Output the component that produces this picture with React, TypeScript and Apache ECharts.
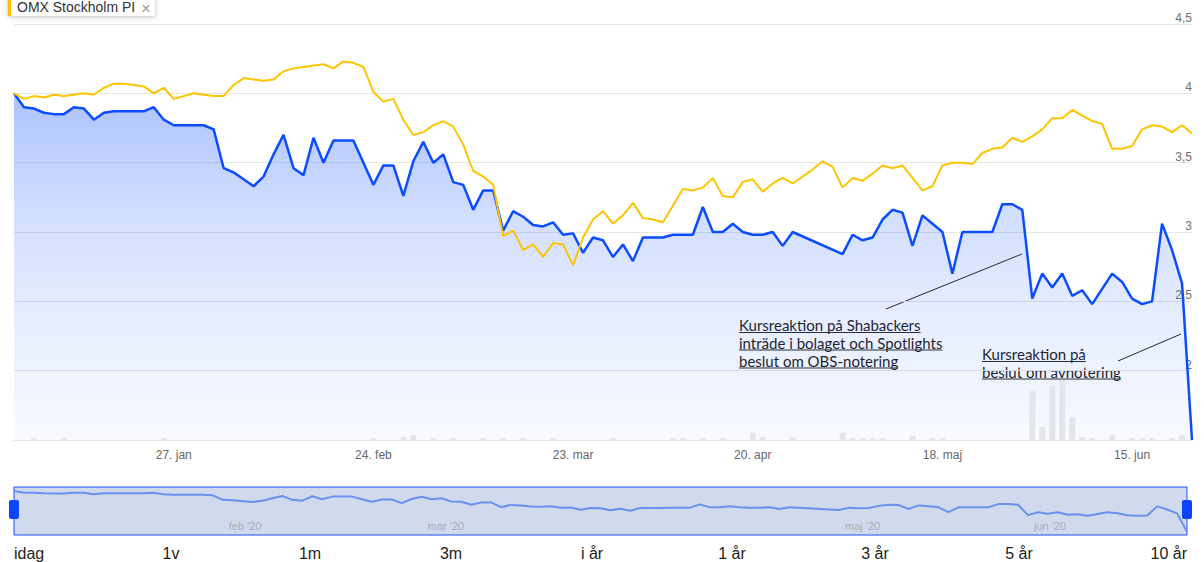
import React, { useEffect, useRef } from "react";
import * as echarts from "echarts";

// Trading days (x categories)
const dates: string[] = [
  "2020-01-02","2020-01-03","2020-01-07","2020-01-08","2020-01-09","2020-01-10","2020-01-13","2020-01-14","2020-01-15","2020-01-16",
  "2020-01-17","2020-01-20","2020-01-21","2020-01-22","2020-01-23","2020-01-24","2020-01-27","2020-01-28","2020-01-29","2020-01-30",
  "2020-01-31","2020-02-03","2020-02-04","2020-02-05","2020-02-06","2020-02-07","2020-02-10","2020-02-11","2020-02-12","2020-02-13",
  "2020-02-14","2020-02-17","2020-02-18","2020-02-19","2020-02-20","2020-02-21","2020-02-24","2020-02-25","2020-02-26","2020-02-27",
  "2020-02-28","2020-03-02","2020-03-03","2020-03-04","2020-03-05","2020-03-06","2020-03-09","2020-03-10","2020-03-11","2020-03-12",
  "2020-03-13","2020-03-16","2020-03-17","2020-03-18","2020-03-19","2020-03-20","2020-03-23","2020-03-24","2020-03-25","2020-03-26",
  "2020-03-27","2020-03-30","2020-03-31","2020-04-01","2020-04-02","2020-04-03","2020-04-06","2020-04-07","2020-04-08","2020-04-09",
  "2020-04-14","2020-04-15","2020-04-16","2020-04-17","2020-04-20","2020-04-21","2020-04-22","2020-04-23","2020-04-24","2020-04-27",
  "2020-04-28","2020-04-29","2020-04-30","2020-05-04","2020-05-05","2020-05-06","2020-05-07","2020-05-08","2020-05-11","2020-05-12",
  "2020-05-13","2020-05-14","2020-05-15","2020-05-18","2020-05-19","2020-05-20","2020-05-22","2020-05-25","2020-05-26","2020-05-27",
  "2020-05-28","2020-05-29","2020-06-01","2020-06-02","2020-06-03","2020-06-04","2020-06-05","2020-06-08","2020-06-09","2020-06-10",
  "2020-06-11","2020-06-12","2020-06-15","2020-06-16","2020-06-17","2020-06-18","2020-06-22","2020-06-23","2020-06-24",
];

// Stock price (SEK)
const stockPrice: (number | null)[] = [
  4.00, 3.90, 3.89, 3.86, 3.85, 3.85, 3.90, 3.89, 3.81, 3.86,
  3.87, 3.87, 3.87, 3.87, 3.90, 3.81, 3.77, 3.77, 3.77, 3.77,
  3.74, 3.46, 3.43, 3.38, 3.33, 3.40, 3.56, 3.70, 3.46, 3.41,
  3.68, 3.50, 3.66, 3.66, 3.66, 3.50, 3.34, 3.48, 3.48, 3.26,
  3.51, 3.65, 3.50, 3.56, 3.36, 3.34, 3.16, 3.30, 3.30, 3.01,
  3.15, 3.11, 3.05, 3.04, 3.07, 2.98, 2.99, 2.85, 2.96, 2.94,
  2.82, 2.91, 2.79, 2.96, 2.96, 2.96, 2.98, 2.98, 2.98, 3.18,
  3.00, 3.00, 3.06, 3.00, 2.98, 2.98, 3.00, 2.90, 3.00, null,
  null, null, null, 2.84, 2.98, 2.94, 2.96, 3.09, 3.16, 3.14,
  2.90, 3.12, 3.06, 3.00, 2.70, 3.00, 3.00, 3.00, 3.00, 3.20,
  3.20, 3.16, 2.52, 2.70, 2.60, 2.70, 2.54, 2.58, 2.48, 2.59,
  2.70, 2.64, 2.52, 2.48, 2.50, 3.06, 2.87, 2.63, 1.50,
];

// OMX Stockholm PI, rebased to the stock's first value
const omxIndex: number[] = [
  4.00, 3.96, 3.98, 3.97, 3.99, 3.98, 3.99, 4.00, 3.99, 4.04,
  4.07, 4.07, 4.06, 4.05, 4.00, 4.04, 3.96, 3.98, 4.00, 3.99,
  3.98, 3.98, 4.06, 4.11, 4.10, 4.09, 4.10, 4.16, 4.18, 4.19,
  4.20, 4.21, 4.18, 4.23, 4.22, 4.19, 4.01, 3.94, 3.96, 3.81,
  3.70, 3.72, 3.77, 3.80, 3.76, 3.63, 3.44, 3.40, 3.34, 2.97,
  3.01, 2.87, 2.91, 2.82, 2.92, 2.91, 2.76, 2.96, 3.09, 3.15,
  3.06, 3.12, 3.21, 3.10, 3.09, 3.07, 3.19, 3.31, 3.30, 3.32,
  3.39, 3.26, 3.25, 3.36, 3.38, 3.29, 3.35, 3.39, 3.35, 3.40,
  3.45, 3.51, 3.47, 3.32, 3.39, 3.37, 3.42, 3.48, 3.46, 3.48,
  3.39, 3.30, 3.33, 3.48, 3.50, 3.50, 3.49, 3.57, 3.60, 3.61,
  3.68, 3.65, 3.69, 3.74, 3.82, 3.82, 3.88, 3.84, 3.80, 3.78,
  3.60, 3.60, 3.62, 3.74, 3.77, 3.76, 3.72, 3.77, 3.71,
];

// Traded volume (relative units)
const volume: number[] = [
  0, 0, 3, 0, 0, 3, 0, 0, 0, 0,
  0, 0, 0, 0, 0, 3, 0, 0, 0, 0,
  0, 0, 0, 0, 0, 0, 0, 0, 0, 0,
  0, 0, 0, 0, 0, 0, 3, 0, 0, 5,
  8, 0, 3, 0, 3, 0, 0, 3, 0, 3,
  0, 3, 0, 0, 3, 0, 0, 0, 0, 0,
  3, 0, 0, 0, 0, 0, 3, 3, 0, 3,
  0, 3, 0, 0, 12, 5, 0, 0, 5, 0,
  0, 0, 0, 12, 3, 3, 3, 3, 0, 0,
  7, 0, 3, 3, 0, 0, 0, 0, 0, 0,
  0, 0, 82, 22, 90, 100, 38, 5, 3, 0,
  8, 0, 3, 3, 3, 0, 3, 8, 0,
];

const xTickDates = ["2020-01-27", "2020-02-24", "2020-03-23", "2020-04-20", "2020-05-18", "2020-06-15"];
const navTickDates = ["2020-02-03", "2020-03-02", "2020-05-04", "2020-06-01"];
const monthNames: Record<string, string> = { "01": "jan", "02": "feb", "03": "mar", "04": "apr", "05": "maj", "06": "jun" };

const legendLabel = "OMX Stockholm PI";
const annotation1 = ["Kursreaktion på Shabackers", "inträde i bolaget och Spotlights", "beslut om OBS-notering"];
const annotation2 = ["Kursreaktion på", "beslut om avnotering"];
const rangeButtons = ["idag", "1v", "1m", "3m", "i år", "1 år", "3 år", "5 år", "10 år"];

export default function App() {
  const ref = useRef<HTMLDivElement>(null);

  useEffect(() => {
    if (!ref.current) return;
    const chart = echarts.init(ref.current, null, { renderer: "svg" });

    const annFamily = 'Lato, "Noto Sans", sans-serif';
    const annSize = 15;
    const annFont = `${annSize}px ${annFamily}`;
    const canvas = document.createElement("canvas");
    const ctx = canvas.getContext("2d")!;
    ctx.font = annFont;
    const tw = (t: string) => ctx.measureText(t).width;

    const annBlock = (lines: string[], x: number, centers: number[]) =>
      lines.flatMap((t, k) => [
        {
          type: "text",
          x,
          y: centers[k],
          style: { text: t, font: annFont, fill: "#1e1e1e", align: "left", verticalAlign: "middle" },
        },
        {
          type: "line",
          shape: { x1: x, y1: centers[k] + 7.5, x2: x + tw(t), y2: centers[k] + 7.5 },
          style: { stroke: "#2a2a2a", lineWidth: 1 },
        },
      ]);

    const btnX = [14, 171, 310, 451, 592, 732, 875, 1019, 1187];
    const buttons = rangeButtons.map((t, i) => ({
      type: "text",
      x: btnX[i],
      y: 553,
      style: {
        text: t,
        font: '16px "Liberation Sans", Arial, sans-serif',
        fill: "#222",
        align: i === 0 ? "left" : i === rangeButtons.length - 1 ? "right" : "center",
        verticalAlign: "middle",
      },
    }));

    const option: any = {
      animation: false,
      backgroundColor: "#fff",
      textStyle: { fontFamily: '"Liberation Sans", Arial, sans-serif' },
      grid: [
        { left: 14, right: 12, top: 24, bottom: 122 },
        { left: 14, right: 12, top: 380, bottom: 122 },
        {
          left: 14, right: 17, top: 487, height: 48, show: true,
          backgroundColor: "rgba(102,133,194,0.3)", borderColor: "#1a4cff", borderWidth: 1,
        },
      ],
      xAxis: [
        {
          gridIndex: 0, type: "category", data: dates, boundaryGap: false,
          axisLine: { show: true, lineStyle: { color: "#e6e6e6" } },
          axisTick: { show: false },
          splitLine: { show: false },
          axisLabel: {
            interval: (_i: number, v: string) => xTickDates.includes(v),
            formatter: (v: string) => `${parseInt(v.slice(8), 10)}. ${monthNames[v.slice(5, 7)]}`,
            color: "#666", fontSize: 12, margin: 9,
          },
        },
        { gridIndex: 1, type: "category", data: dates, boundaryGap: false, show: false },
        {
          gridIndex: 2, type: "category", data: dates, boundaryGap: false,
          axisLine: { show: false }, axisTick: { show: false }, splitLine: { show: false },
          axisLabel: {
            inside: true, margin: 4, align: "left", padding: [0, 0, 0, 6],
            interval: (_i: number, v: string) => navTickDates.includes(v),
            formatter: (v: string) => `${monthNames[v.slice(5, 7)]} '${v.slice(2, 4)}`,
            color: "#a8adb8", fontSize: 11,
          },
        },
      ],
      yAxis: [
        {
          gridIndex: 0, type: "value", position: "right", min: 1.5, max: 4.5, interval: 0.5,
          axisLine: { show: false }, axisTick: { show: false },
          splitLine: { lineStyle: { color: "#e6e6e6" } },
          axisLabel: {
            inside: true, margin: 0, verticalAlign: "bottom", color: "#707070", fontSize: 12,
            formatter: (v: number) => (v === 1.5 ? "" : String(v).replace(".", ",")),
          },
        },
        { gridIndex: 1, type: "value", min: 0, max: 100, show: false },
        { gridIndex: 2, type: "value", min: 1.3, max: 4.25, show: false },
      ],
      series: [
        {
          name: "Aktie", type: "line", xAxisIndex: 0, yAxisIndex: 0, data: stockPrice,
          connectNulls: true, showSymbol: false, z: 3,
          lineStyle: { color: "#0a4cff", width: 2.5 },
          itemStyle: { color: "#0a4cff" },
          areaStyle: {
            color: new echarts.graphic.LinearGradient(0, 0, 0, 1, [
              { offset: 0, color: "rgba(10,76,255,0.48)" },
              { offset: 0.35, color: "rgba(10,76,255,0.26)" },
              { offset: 0.65, color: "rgba(10,76,255,0.14)" },
              { offset: 1, color: "rgba(10,76,255,0.04)" },
            ]),
          },
        },
        {
          name: legendLabel, type: "line", xAxisIndex: 0, yAxisIndex: 0, data: omxIndex,
          showSymbol: false, z: 5,
          lineStyle: { color: "#fdc500", width: 2 },
          itemStyle: { color: "#fdc500" },
        },
        {
          name: "Volym", type: "bar", xAxisIndex: 1, yAxisIndex: 1, data: volume,
          barWidth: 6, z: 4, itemStyle: { color: "#e4e5ea" },
        },
        {
          name: "Navigator", type: "line", xAxisIndex: 2, yAxisIndex: 2, data: stockPrice,
          connectNulls: true, showSymbol: false, z: 2,
          lineStyle: { color: "#6a90f0", width: 2 },
          itemStyle: { color: "#6a90f0" },
        },
      ],
      graphic: [
        {
          type: "rect", shape: { x: 8, y: -12, width: 147, height: 28 },
          style: { fill: "#fff", shadowBlur: 5, shadowColor: "rgba(0,0,0,0.25)", shadowOffsetY: 1 },
        },
        { type: "rect", shape: { x: 8, y: -12, width: 3, height: 28 }, style: { fill: "#fdc500" } },
        {
          type: "text", x: 17, y: 7,
          style: { text: legendLabel, font: '14px "Liberation Sans", Arial, sans-serif', fill: "#333", verticalAlign: "middle" },
        },
        {
          type: "text", x: 146, y: 8,
          style: { text: "×", font: '16px "Liberation Sans", Arial, sans-serif', fill: "#999", align: "center", verticalAlign: "middle" },
        },
        ...annBlock(annotation1, 739, [325, 342.5, 360.5]),
        ...annBlock(annotation2, 982, [354, 371.5]),
        { type: "line", shape: { x1: 886, y1: 309, x2: 1022, y2: 254 }, style: { stroke: "#222", lineWidth: 1 } },
        { type: "line", shape: { x1: 1118, y1: 361, x2: 1181, y2: 334 }, style: { stroke: "#222", lineWidth: 1 } },
        { type: "rect", shape: { x: 9, y: 500, width: 10, height: 19, r: 2 }, style: { fill: "#0a46ff" } },
        { type: "rect", shape: { x: 1182, y: 500, width: 10, height: 19, r: 2 }, style: { fill: "#0a46ff" } },
        ...buttons,
      ],
    };

    chart.setOption(option);
    return () => chart.dispose();
  }, []);

  return (
    <div
      ref={ref}
      style={{ position: "fixed", left: 0, top: 0, width: 1204, height: 562, background: "#fff" }}
    />
  );
}
